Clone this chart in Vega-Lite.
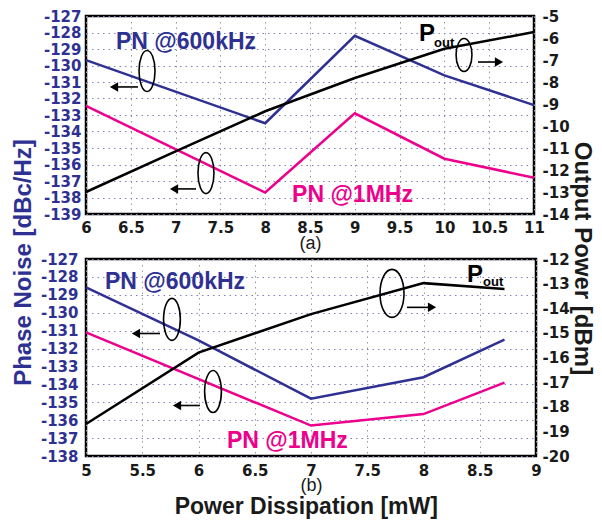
{
  "$schema": "https://vega.github.io/schema/vega-lite/v6.json",
  "background": "white",
  "padding": {"left": 10, "top": 7, "right": 0, "bottom": 0},
  "bounds": "flush",
  "spacing": 45,
  "title": {"text": "Power Dissipation [mW]", "orient": "bottom", "anchor": "middle", "font": "Liberation Sans", "fontSize": 23, "fontWeight": "bold", "color": "#1a1a1a", "offset": 1, "dx": 4},
  "datasets": {
    "a_pn": [
      {"x": 6, "y": -129.67, "s": "600kHz"}, {"x": 8, "y": -133.5, "s": "600kHz"}, {"x": 9, "y": -128.2, "s": "600kHz"}, {"x": 10, "y": -130.6, "s": "600kHz"}, {"x": 11, "y": -132.4, "s": "600kHz"},
      {"x": 6, "y": -132.45, "s": "1MHz"}, {"x": 8, "y": -137.7, "s": "1MHz"}, {"x": 9, "y": -132.9, "s": "1MHz"}, {"x": 10, "y": -135.65, "s": "1MHz"}, {"x": 11, "y": -136.8, "s": "1MHz"}
    ],
    "a_pout": [
      {"x": 6, "y": -13.0}, {"x": 7, "y": -11.15}, {"x": 8, "y": -9.33}, {"x": 9, "y": -7.82}, {"x": 10, "y": -6.49}, {"x": 11, "y": -5.73}
    ],
    "a_txt": [
      {"x": 6.335, "y": -129.0, "t": "PN @600kHz", "s": "600kHz"},
      {"x": 8.3, "y": -138.27, "t": "PN @1MHz", "s": "1MHz"}
    ],
    "a_ell": [{"x": 6.681, "y": -130.33}, {"x": 7.339, "y": -136.52}],
    "a_pell": [{"x": 10.219, "y": -129.36}],
    "a_arr": [
      {"x": 6.58, "x2": 6.3125, "y": -131.3, "d": "left"},
      {"x": 7.228, "x2": 6.982, "y": -137.48, "d": "left"},
      {"x": 10.375, "x2": 10.609, "y": -129.79, "d": "right"}
    ],
    "a_head": [
      {"x": 6.3125, "y": -131.3, "d": "left"},
      {"x": 6.982, "y": -137.48, "d": "left"},
      {"x": 10.609, "y": -129.79, "d": "right"}
    ],
    "a_P": [{"x": 9.717, "y": -128.52, "t": "P"}],
    "a_sub": [{"x": 9.884, "y": -128.88, "t": "out"}],
    "b_pn": [
      {"x": 5, "y": -128.58, "s": "600kHz"}, {"x": 6, "y": -131.55, "s": "600kHz"}, {"x": 7, "y": -134.8, "s": "600kHz"}, {"x": 8, "y": -133.6, "s": "600kHz"}, {"x": 8.72, "y": -131.5, "s": "600kHz"},
      {"x": 5, "y": -131.1, "s": "1MHz"}, {"x": 7, "y": -136.3, "s": "1MHz"}, {"x": 8, "y": -135.66, "s": "1MHz"}, {"x": 8.72, "y": -133.9, "s": "1MHz"}
    ],
    "b_pout": [
      {"x": 5, "y": -18.7}, {"x": 6, "y": -15.8}, {"x": 7, "y": -14.24}, {"x": 8, "y": -12.98}, {"x": 8.72, "y": -13.22}
    ],
    "b_txt": [
      {"x": 5.169, "y": -128.69, "t": "PN @600kHz", "s": "600kHz"},
      {"x": 6.253, "y": -137.53, "t": "PN @1MHz", "s": "1MHz"}
    ],
    "b_ell": [{"x": 5.764, "y": -130.37}, {"x": 6.129, "y": -134.4}],
    "b_pell": [{"x": 7.72, "y": -128.92}],
    "b_arr": [
      {"x": 5.658, "x2": 5.444, "y": -131.16, "d": "left"},
      {"x": 6.013, "x2": 5.809, "y": -135.18, "d": "left"},
      {"x": 7.853, "x2": 8.076, "y": -129.7, "d": "right"}
    ],
    "b_head": [
      {"x": 5.444, "y": -131.16, "d": "left"},
      {"x": 5.809, "y": -135.18, "d": "left"},
      {"x": 8.076, "y": -129.7, "d": "right"}
    ],
    "b_P": [{"x": 8.387, "y": -128.3, "t": "P"}],
    "b_sub": [{"x": 8.529, "y": -128.53, "t": "out"}]
  },
  "vconcat": [
    {
      "width": 448,
      "height": 198,
      "encoding": {
        "x": {"field": "x", "type": "quantitative", "title": "(a)",
          "scale": {"domain": [6, 11], "nice": false, "zero": false},
          "axis": {"values": [6, 6.5, 7, 7.5, 8, 8.5, 9, 9.5, 10, 10.5, 11], "labelExpr": "toString(datum.value)", "grid": true, "gridColor": "#999999", "labelPadding": 6, "titleY": 34}}
      },
      "layer": [
        {
          "encoding": {
            "y": {"field": "y", "type": "quantitative", "title": "Phase Noise [dBc/Hz]",
              "scale": {"domain": [-139, -127], "nice": false, "zero": false},
              "axis": {"values": [-139, -138, -137, -136, -135, -134, -133, -132, -131, -130, -129, -128, -127], "labelExpr": "toString(datum.value)", "grid": true, "gridColor": "#8080c0", "labelColor": "#2e3192", "titleColor": "#2e3192", "titleFontSize": 24, "titleY": 246, "titlePadding": 8, "labelPadding": 5}}
          },
          "layer": [
            {"data": {"name": "a_pn"}, "mark": {"type": "line", "strokeWidth": 2.5},
              "encoding": {"color": {"field": "s", "type": "nominal", "scale": {"domain": ["600kHz", "1MHz"], "range": ["#2e3192", "#ec008c"]}, "legend": null}}},
            {"data": {"name": "a_txt"}, "mark": {"type": "text", "align": "left", "baseline": "alphabetic", "font": "Liberation Sans", "fontSize": 23, "fontWeight": "bold"},
              "encoding": {"text": {"field": "t"}, "color": {"field": "s", "type": "nominal", "scale": {"domain": ["600kHz", "1MHz"], "range": ["#2e3192", "#ec008c"]}, "legend": null}}},
            {"data": {"name": "a_ell"}, "mark": {"type": "point", "shape": "M0,-1A0.39,1,0,1,1,0,1A0.39,1,0,1,1,0,-1Z", "size": 1681, "filled": false, "color": "black", "strokeWidth": 1.6, "opacity": 1}},
            {"data": {"name": "a_pell"}, "mark": {"type": "point", "shape": "M0,-1A0.48,1,0,1,1,0,1A0.48,1,0,1,1,0,-1Z", "size": 1089, "filled": false, "color": "black", "strokeWidth": 1.6, "opacity": 1}},
            {"data": {"name": "a_arr"}, "mark": {"type": "rule", "color": "black", "strokeWidth": 1.6},
              "encoding": {"x2": {"field": "x2"}}},
            {"data": {"name": "a_head"}, "mark": {"type": "point", "filled": true, "color": "black", "size": 90, "opacity": 1},
              "encoding": {"shape": {"field": "d", "type": "nominal", "scale": {"domain": ["left", "right"], "range": ["triangle-left", "triangle-right"]}, "legend": null}}},
            {"data": {"name": "a_P"}, "mark": {"type": "text", "align": "left", "baseline": "alphabetic", "font": "Liberation Sans", "fontSize": 24, "fontWeight": "bold", "color": "black"},
              "encoding": {"text": {"field": "t"}}},
            {"data": {"name": "a_sub"}, "mark": {"type": "text", "align": "left", "baseline": "alphabetic", "font": "Liberation Sans", "fontSize": 13, "fontWeight": "bold", "color": "black"},
              "encoding": {"text": {"field": "t"}}}
          ]
        },
        {
          "data": {"name": "a_pout"},
          "mark": {"type": "line", "color": "black", "strokeWidth": 2.5},
          "encoding": {
            "y": {"field": "y", "type": "quantitative", "title": "Output Power [dBm]",
              "scale": {"domain": [-14, -5], "nice": false, "zero": false},
              "axis": {"orient": "right", "values": [-14, -13, -12, -11, -10, -9, -8, -7, -6, -5], "labelExpr": "toString(datum.value)", "grid": false, "titleFontSize": 24, "titleY": 242, "titlePadding": 0, "labelPadding": 8, "titleColor": "#1a1a1a"}}
          }
        }
      ],
      "resolve": {"scale": {"y": "independent"}}
    },
    {
      "width": 450,
      "height": 197,
      "encoding": {
        "x": {"field": "x", "type": "quantitative", "title": "(b)",
          "scale": {"domain": [5, 9], "nice": false, "zero": false},
          "axis": {"values": [5, 5.5, 6, 6.5, 7, 7.5, 8, 8.5, 9], "labelExpr": "toString(datum.value)", "grid": true, "gridColor": "#999999", "labelPadding": 7, "titleY": 34}}
      },
      "layer": [
        {
          "encoding": {
            "y": {"field": "y", "type": "quantitative", "title": null,
              "scale": {"domain": [-138, -127], "nice": false, "zero": false},
              "axis": {"values": [-138, -137, -136, -135, -134, -133, -132, -131, -130, -129, -128, -127], "labelExpr": "toString(datum.value)", "grid": true, "gridColor": "#8080c0", "labelColor": "#2e3192", "labelPadding": 8}}
          },
          "layer": [
            {"data": {"name": "b_pn"}, "mark": {"type": "line", "strokeWidth": 2.5},
              "encoding": {"color": {"field": "s", "type": "nominal", "scale": {"domain": ["600kHz", "1MHz"], "range": ["#2e3192", "#ec008c"]}, "legend": null}}},
            {"data": {"name": "b_txt"}, "mark": {"type": "text", "align": "left", "baseline": "alphabetic", "font": "Liberation Sans", "fontSize": 23, "fontWeight": "bold"},
              "encoding": {"text": {"field": "t"}, "color": {"field": "s", "type": "nominal", "scale": {"domain": ["600kHz", "1MHz"], "range": ["#2e3192", "#ec008c"]}, "legend": null}}},
            {"data": {"name": "b_ell"}, "mark": {"type": "point", "shape": "M0,-1A0.4,1,0,1,1,0,1A0.4,1,0,1,1,0,-1Z", "size": 1764, "filled": false, "color": "black", "strokeWidth": 1.6, "opacity": 1}},
            {"data": {"name": "b_pell"}, "mark": {"type": "point", "shape": "M0,-1A0.5,1,0,1,1,0,1A0.5,1,0,1,1,0,-1Z", "size": 2304, "filled": false, "color": "black", "strokeWidth": 1.6, "opacity": 1}},
            {"data": {"name": "b_arr"}, "mark": {"type": "rule", "color": "black", "strokeWidth": 1.6},
              "encoding": {"x2": {"field": "x2"}}},
            {"data": {"name": "b_head"}, "mark": {"type": "point", "filled": true, "color": "black", "size": 90, "opacity": 1},
              "encoding": {"shape": {"field": "d", "type": "nominal", "scale": {"domain": ["left", "right"], "range": ["triangle-left", "triangle-right"]}, "legend": null}}},
            {"data": {"name": "b_P"}, "mark": {"type": "text", "align": "left", "baseline": "alphabetic", "font": "Liberation Sans", "fontSize": 24, "fontWeight": "bold", "color": "black"},
              "encoding": {"text": {"field": "t"}}},
            {"data": {"name": "b_sub"}, "mark": {"type": "text", "align": "left", "baseline": "alphabetic", "font": "Liberation Sans", "fontSize": 13, "fontWeight": "bold", "color": "black"},
              "encoding": {"text": {"field": "t"}}}
          ]
        },
        {
          "data": {"name": "b_pout"},
          "mark": {"type": "line", "color": "black", "strokeWidth": 2.5},
          "encoding": {
            "y": {"field": "y", "type": "quantitative", "title": null,
              "scale": {"domain": [-20, -12], "nice": false, "zero": false},
              "axis": {"orient": "right", "values": [-20, -19, -18, -17, -16, -15, -14, -13, -12], "labelExpr": "toString(datum.value)", "grid": false, "labelPadding": 6}}
          }
        }
      ],
      "resolve": {"scale": {"y": "independent"}}
    }
  ],
  "config": {
    "view": {"stroke": "black", "strokeWidth": 2.5},
    "axis": {"labelFont": "DejaVu Sans", "labelFontWeight": "bold", "labelFontSize": 15, "labelColor": "#1a1a1a", "labelFlush": false, "labelOverlap": false, "labelBound": false, "ticks": false, "domain": false, "titleFont": "Liberation Sans", "titleFontWeight": "bold", "gridDash": [1.5, 4], "gridWidth": 1, "gridOpacity": 1},
    "axisX": {"titleFontSize": 18, "titleFontWeight": "normal", "titleColor": "#1a1a1a", "titleFont": "Liberation Sans", "titleBaseline": "alphabetic"}
  }
}
